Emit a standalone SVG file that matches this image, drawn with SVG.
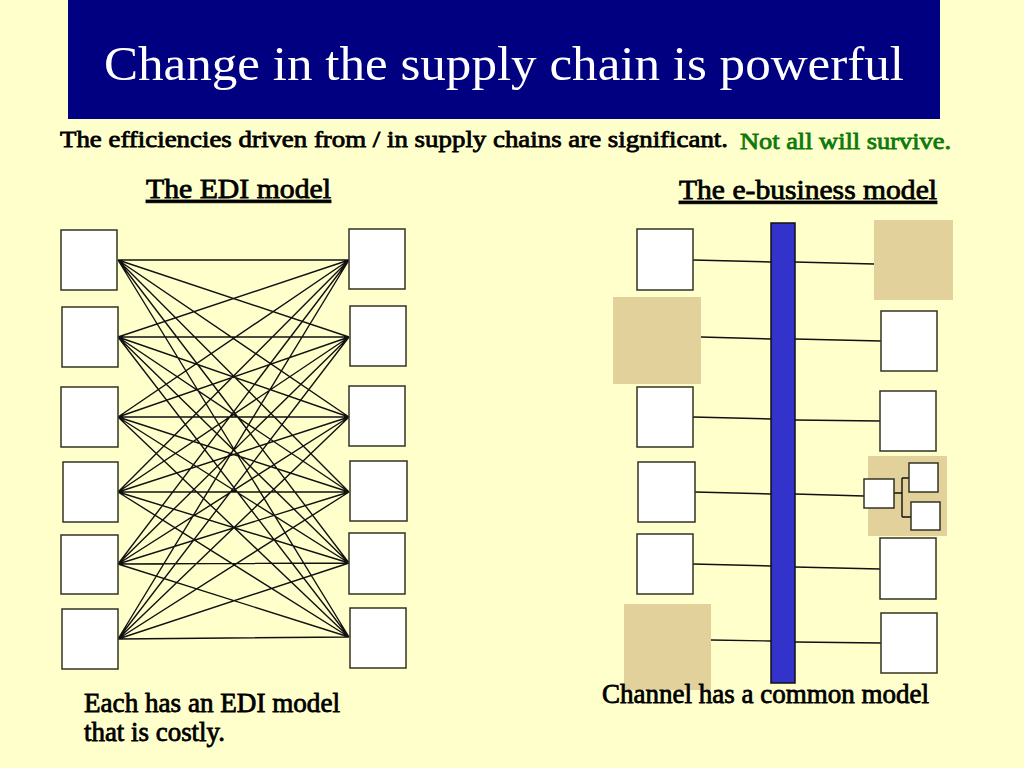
<svg xmlns="http://www.w3.org/2000/svg" width="1024" height="768" viewBox="0 0 1024 768">
<style>
.bg{fill:#FFFFCC}
.box{fill:#FFFFFF;stroke:#333322;stroke-width:1.5}
.tan{fill:#E3D19B}
.ln{stroke:#111111;stroke-width:1.4;fill:none}
.t{fill:#000;stroke:#000;stroke-width:0.8;font-family:"Liberation Serif","Times New Roman",serif}
.g{fill:#0B7A0B;stroke:#0B7A0B;stroke-width:0.8;font-family:"Liberation Serif","Times New Roman",serif}
</style>
<rect class="bg" x="0" y="0" width="1024" height="768"/>
<rect x="68" y="0" width="872" height="119" fill="#000080"/>
<text x="504" y="80" text-anchor="middle" font-family="Liberation Serif,serif" font-size="48" fill="#FFFFFF" textLength="800" lengthAdjust="spacingAndGlyphs">Change in the supply chain is powerful</text>
<text class="t" x="60" y="147" font-size="24" textLength="668" lengthAdjust="spacingAndGlyphs">The efficiencies driven from / in supply chains are significant.</text>
<text class="g" x="740" y="149" font-size="24" textLength="211" lengthAdjust="spacingAndGlyphs">Not all will survive.</text>
<text class="t" x="146" y="198" font-size="28" text-decoration="underline" textLength="185" lengthAdjust="spacingAndGlyphs">The EDI model</text>
<text class="t" x="679" y="199" font-size="28" text-decoration="underline" textLength="258" lengthAdjust="spacingAndGlyphs">The e-business model</text>

<g id="edi-connectors">
<path class="ln" d="M118 260L349 260M118 260L349 337M118 260L349 417M118 260L349 492M118 260L349 563M118 260L349 637
M118 337L349 260M118 337L349 337M118 337L349 417M118 337L349 492M118 337L349 563M118 337L349 637
M118 417L349 260M118 417L349 337M118 417L349 417M118 417L349 492M118 417L349 563M118 417L349 637
M118 492L349 260M118 492L349 337M118 492L349 417M118 492L349 492M118 492L349 563M118 492L349 637
M118 564L349 260M118 564L349 337M118 564L349 417M118 564L349 492M118 564L349 563M118 564L349 637
M118 639L349 260M118 639L349 337M118 639L349 417M118 639L349 492M118 639L349 563M118 639L349 637"/>
</g>
<g id="edi-left">
<rect id="L1" class="box" x="61" y="230" width="56" height="60"/>
<rect id="L2" class="box" x="62" y="307" width="56" height="60"/>
<rect id="L3" class="box" x="61" y="387" width="57" height="60"/>
<rect id="L4" class="box" x="63" y="462" width="55" height="60"/>
<rect id="L5" class="box" x="61" y="535" width="57" height="59"/>
<rect id="L6" class="box" x="62" y="609" width="56" height="60"/>
</g>
<g id="edi-right">
<rect id="R1" class="box" x="349" y="229" width="56" height="60"/>
<rect id="R2" class="box" x="350" y="306" width="56" height="60"/>
<rect id="R3" class="box" x="349" y="386" width="56" height="60"/>
<rect id="R4" class="box" x="350" y="461" width="57" height="60"/>
<rect id="R5" class="box" x="349" y="533" width="56" height="61"/>
<rect id="R6" class="box" x="350" y="608" width="56" height="60"/>
</g>

<g id="eb-connectors">
<path class="ln" d="M693 260L771 262M701 337L771 339M693 417L771 419M695 492L771 494M693 564L771 566M711 640L771 641
M795 262L874 264M795 339L881 341M795 420L880 421M795 494L864 496M795 567L880 569M795 642L881 643"/>
</g>
<g id="eb-left">
<rect id="EL1" class="box" x="637" y="229" width="56" height="61"/>
<rect id="EL2" class="tan" x="613" y="297" width="88" height="87"/>
<rect id="EL3" class="box" x="637" y="387" width="56" height="60"/>
<rect id="EL4" class="box" x="638" y="462" width="57" height="60"/>
<rect id="EL5" class="box" x="637" y="534" width="56" height="60"/>
<rect id="EL6" class="tan" x="624" y="604" width="87" height="86"/>
</g>
<g id="channel-bar">
<rect x="771" y="223" width="24" height="460" fill="#3333CC" stroke="#111" stroke-width="1.5"/>
</g>
<g id="eb-right">
<rect id="ER1" class="tan" x="874" y="220" width="79" height="80"/>
<rect id="ER2" class="box" x="881" y="311" width="56" height="60"/>
<rect id="ER3" class="box" x="880" y="391" width="56" height="60"/>
<g id="ER4">
<rect class="tan" x="868" y="456" width="79" height="80"/>
<path class="ln" d="M894 493H902M902 478V517M902 478H909M902 517H911"/>
<rect class="box" x="864" y="479" width="30" height="29"/>
<rect class="box" x="909" y="463" width="29" height="29"/>
<rect class="box" x="911" y="502" width="29" height="28"/>
</g>
<rect id="ER5" class="box" x="880" y="538" width="56" height="61"/>
<rect id="ER6" class="box" x="881" y="613" width="56" height="60"/>
</g>

<text class="t" x="84" y="712" font-size="27" textLength="256" lengthAdjust="spacingAndGlyphs">Each has an EDI model</text>
<text class="t" x="84" y="741" font-size="27" textLength="141" lengthAdjust="spacingAndGlyphs">that is costly.</text>
<text class="t" x="602" y="703" font-size="27" textLength="327" lengthAdjust="spacingAndGlyphs">Channel has a common model</text>
</svg>
